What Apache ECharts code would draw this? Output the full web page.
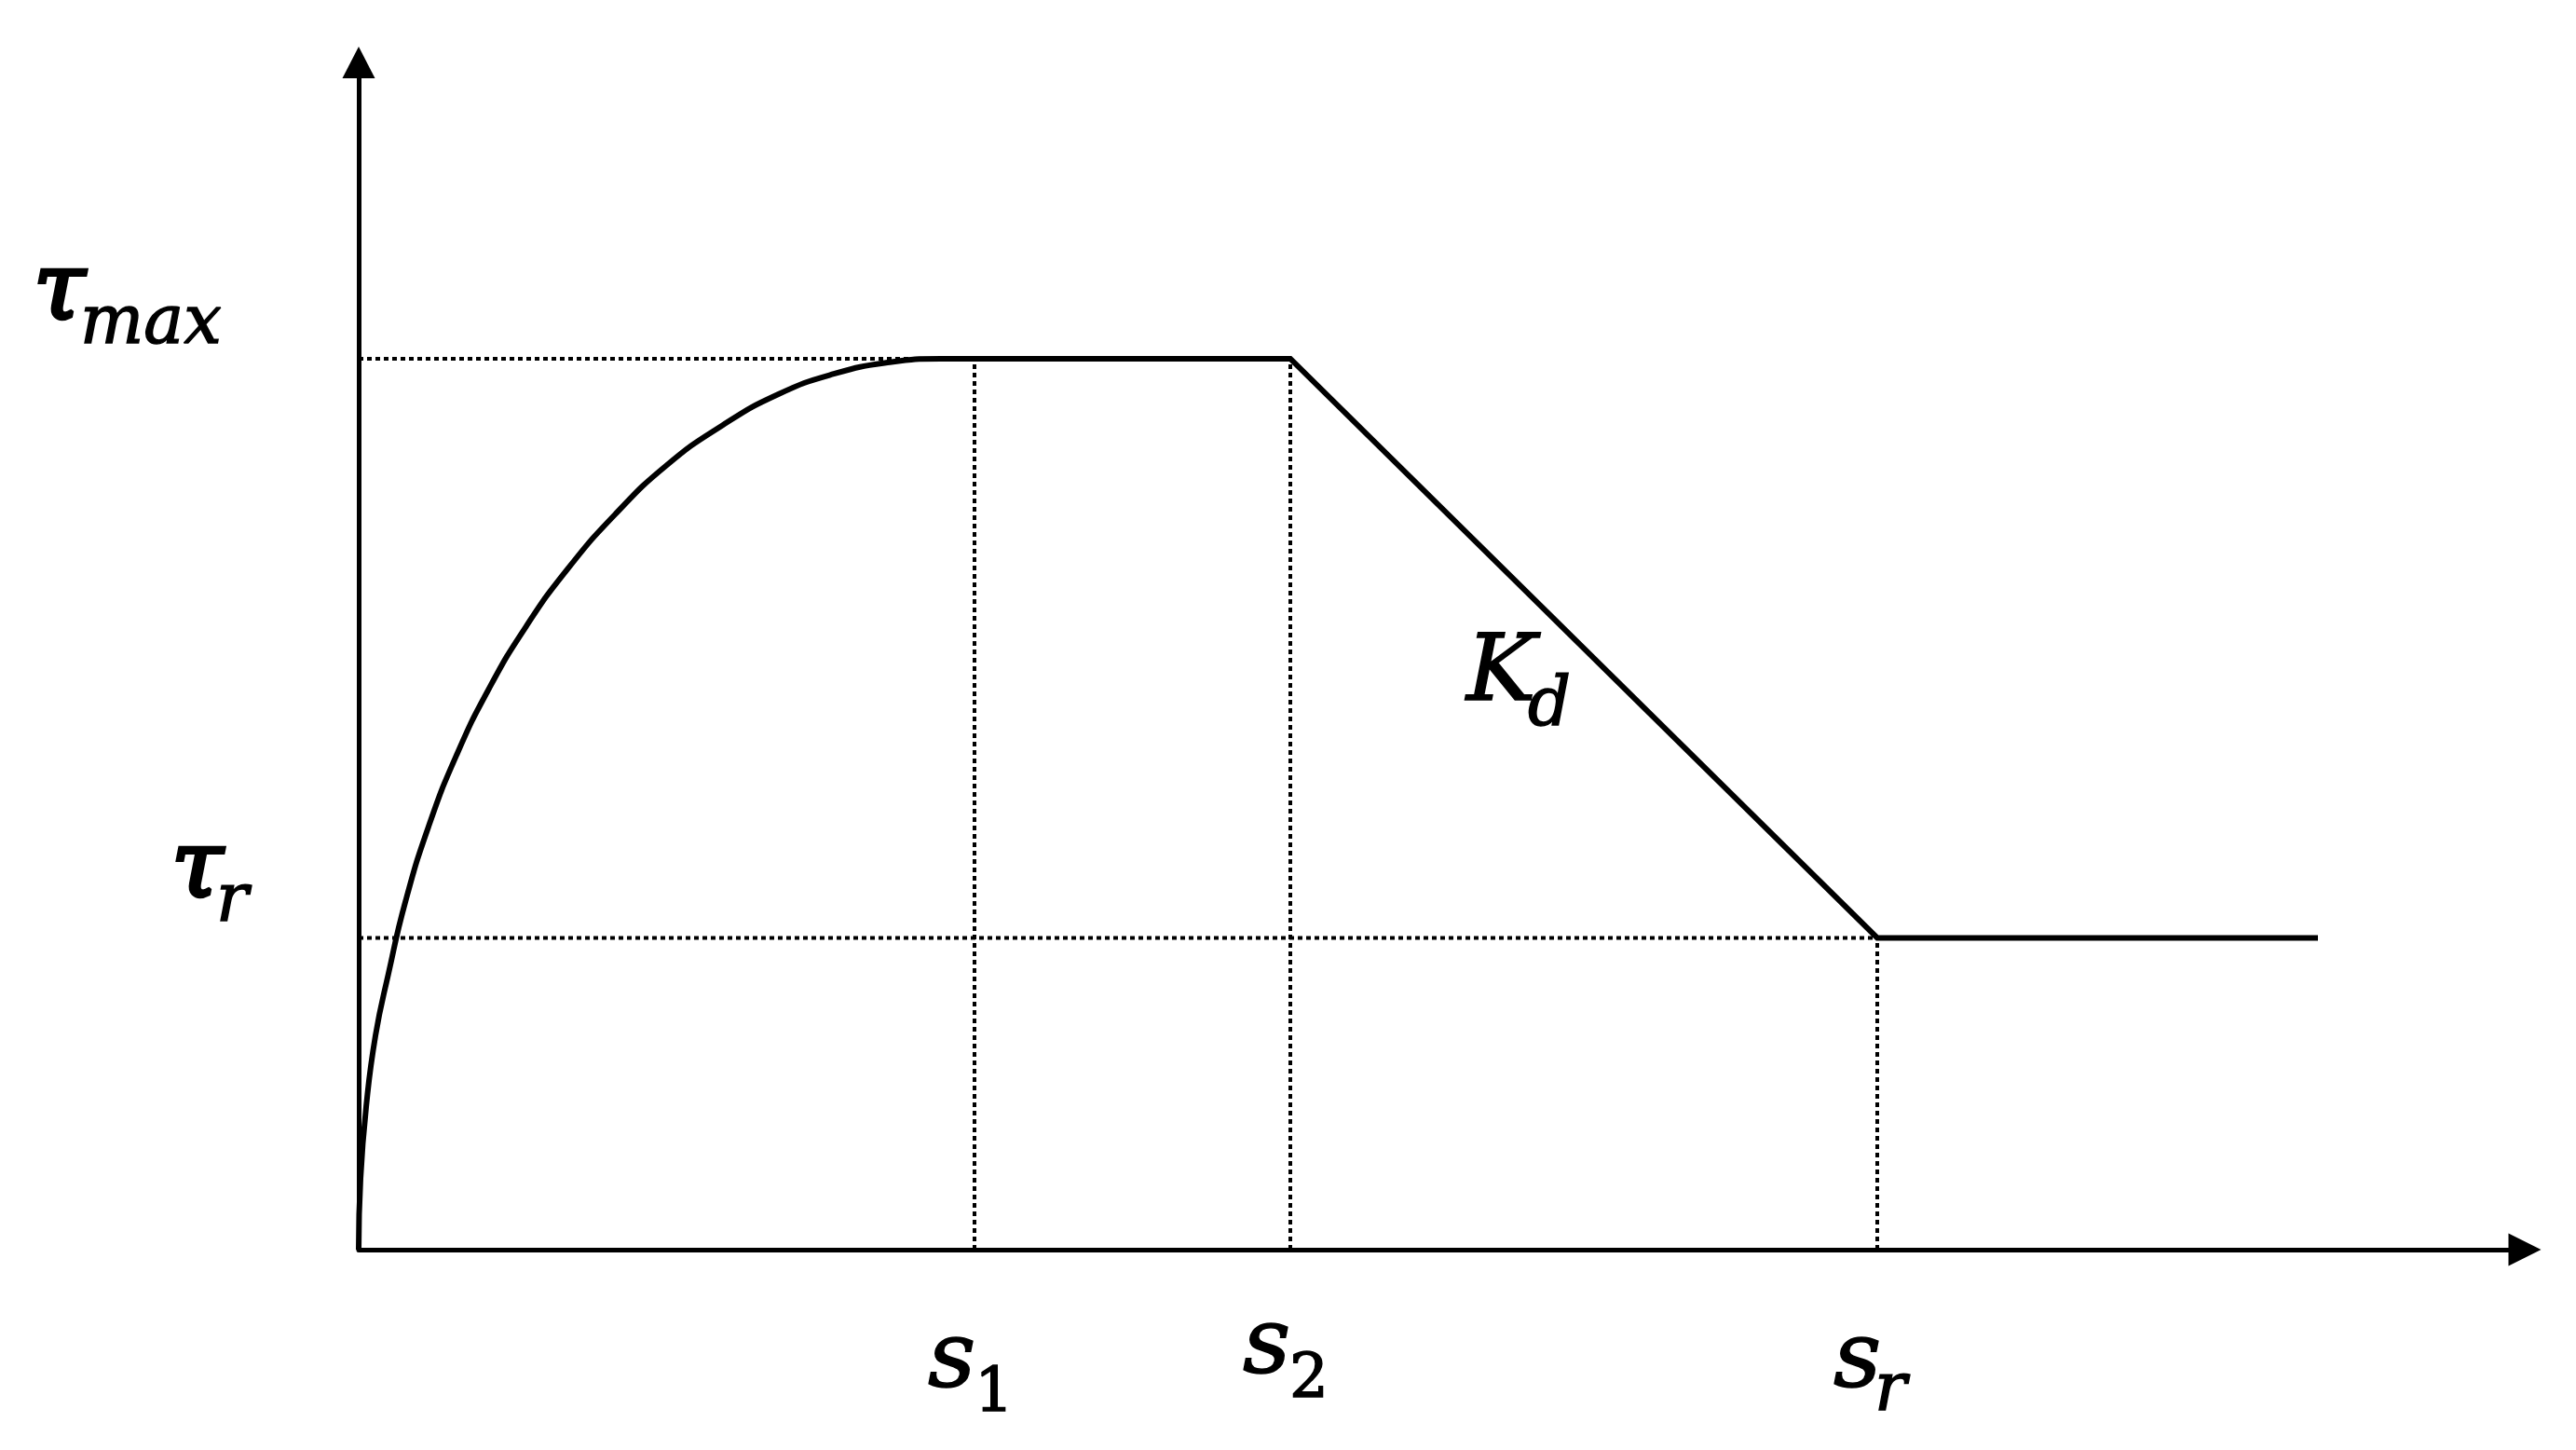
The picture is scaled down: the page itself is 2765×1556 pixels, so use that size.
<!DOCTYPE html>
<html>
<head>
<meta charset="utf-8">
<script src="https://cdn.jsdelivr.net/npm/echarts@6/dist/echarts.min.js"></script>
<style>
  html, body { margin: 0; padding: 0; background: #fff; }
  #main { width: 2765px; height: 1556px; }
</style>
</head>
<body>
<div id="main"></div>
<script>
// slip (x) in units of 100px-ish, stress normalised to tau_max
const tauMax = 1.0;
const tauR = 0.35;
const s1 = 6.61;
const s2 = 10.0;
const sr = 16.3;
const sEnd = 21.03;

// rising branch
const curveX = [0, 0.02, 0.08, 0.18, 0.32, 0.5, 0.75, 1.05, 1.4, 1.8, 2.25, 2.75, 3.3, 3.9, 4.5, 5.1, 5.7, 6.25, s1];
const curveY = [0, 0.08, 0.16, 0.24, 0.31, 0.39, 0.475, 0.555, 0.63, 0.7, 0.765, 0.825, 0.88, 0.925, 0.96, 0.983, 0.996, 1.0, 1.0];

// plateau, softening (K_d) and residual branch
const branchX = [s1, s2, sr, sEnd];
const branchY = [tauMax, tauMax, tauR, tauR];

// dotted reference lines: [x0, y0, x1, y1]
const guides = [
  [0, tauMax, s1, tauMax],
  [0, tauR, sr, tauR],
  [s1, 0, s1, tauMax],
  [s2, 0, s2, tauMax],
  [sr, 0, sr, tauR]
];

let myChart = echarts.init(document.getElementById("main"));

const black = "#000";
const font = "'DejaVu Serif', 'Liberation Serif', serif";

function label(x, y, text, size, italic, weight) {
  return {
    type: "text",
    x: x,
    y: y,
    style: {
      text: text,
      fill: black,
      stroke: black,
      lineWidth: weight,
      font: (italic ? "italic " : "") + size + "px " + font,
      align: "left",
      verticalAlign: "bottom"
    }
  };
}

let series = [
  {
    type: "line",
    data: curveX.map((x, i) => [x, curveY[i]]),
    smooth: 0.5,
    symbol: "none",
    lineStyle: { color: black, width: 6 },
    z: 3
  },
  {
    type: "line",
    data: branchX.map((x, i) => [x, branchY[i]]),
    symbol: "none",
    lineStyle: { color: black, width: 6, join: "miter" },
    z: 3
  }
];

guides.forEach((g) => {
  series.push({
    type: "line",
    data: [[g[0], g[1]], [g[2], g[3]]],
    symbol: "none",
    lineStyle: { color: black, width: 4, type: [5, 4] },
    z: 2
  });
});

let option = {
  backgroundColor: "#fff",
  animation: false,
  grid: { left: 385, right: 55, top: 67, bottom: 215 },
  xAxis: {
    type: "value",
    min: 0,
    max: 23.25,
    axisLine: {
      show: true,
      onZero: false,
      symbol: ["none", "triangle"],
      symbolSize: [35, 35],
      lineStyle: { color: black, width: 5 }
    },
    axisTick: { show: false },
    axisLabel: { show: false },
    splitLine: { show: false }
  },
  yAxis: {
    type: "value",
    min: 0,
    max: 1.3326,
    axisLine: {
      show: true,
      onZero: false,
      symbol: ["none", "triangle"],
      symbolSize: [35, 34],
      lineStyle: { color: black, width: 5 }
    },
    axisTick: { show: false },
    axisLabel: { show: false },
    splitLine: { show: false }
  },
  series: series,
  graphic: [
    label(36, 365, "τ", 100, true, 4),
    label(86, 385, "max", 72, true, 1.5),
    label(184, 985, "τ", 100, true, 4),
    label(232, 1005, "r", 72, true, 1.5),
    label(996, 1512, "s", 100, true, 1.5),
    label(1046, 1530, "1", 66, false, 1.5),
    label(1334, 1497, "s", 100, true, 1.5),
    label(1384, 1515, "2", 66, false, 1.5),
    label(1968, 1512, "s", 100, true, 1.5),
    label(2012, 1530, "r", 72, true, 1.5),
    label(1574, 775, "K", 100, true, 1.5),
    label(1640, 795, "d", 72, true, 1.5)
  ]
};

myChart.setOption(option);
</script>
</body>
</html>
